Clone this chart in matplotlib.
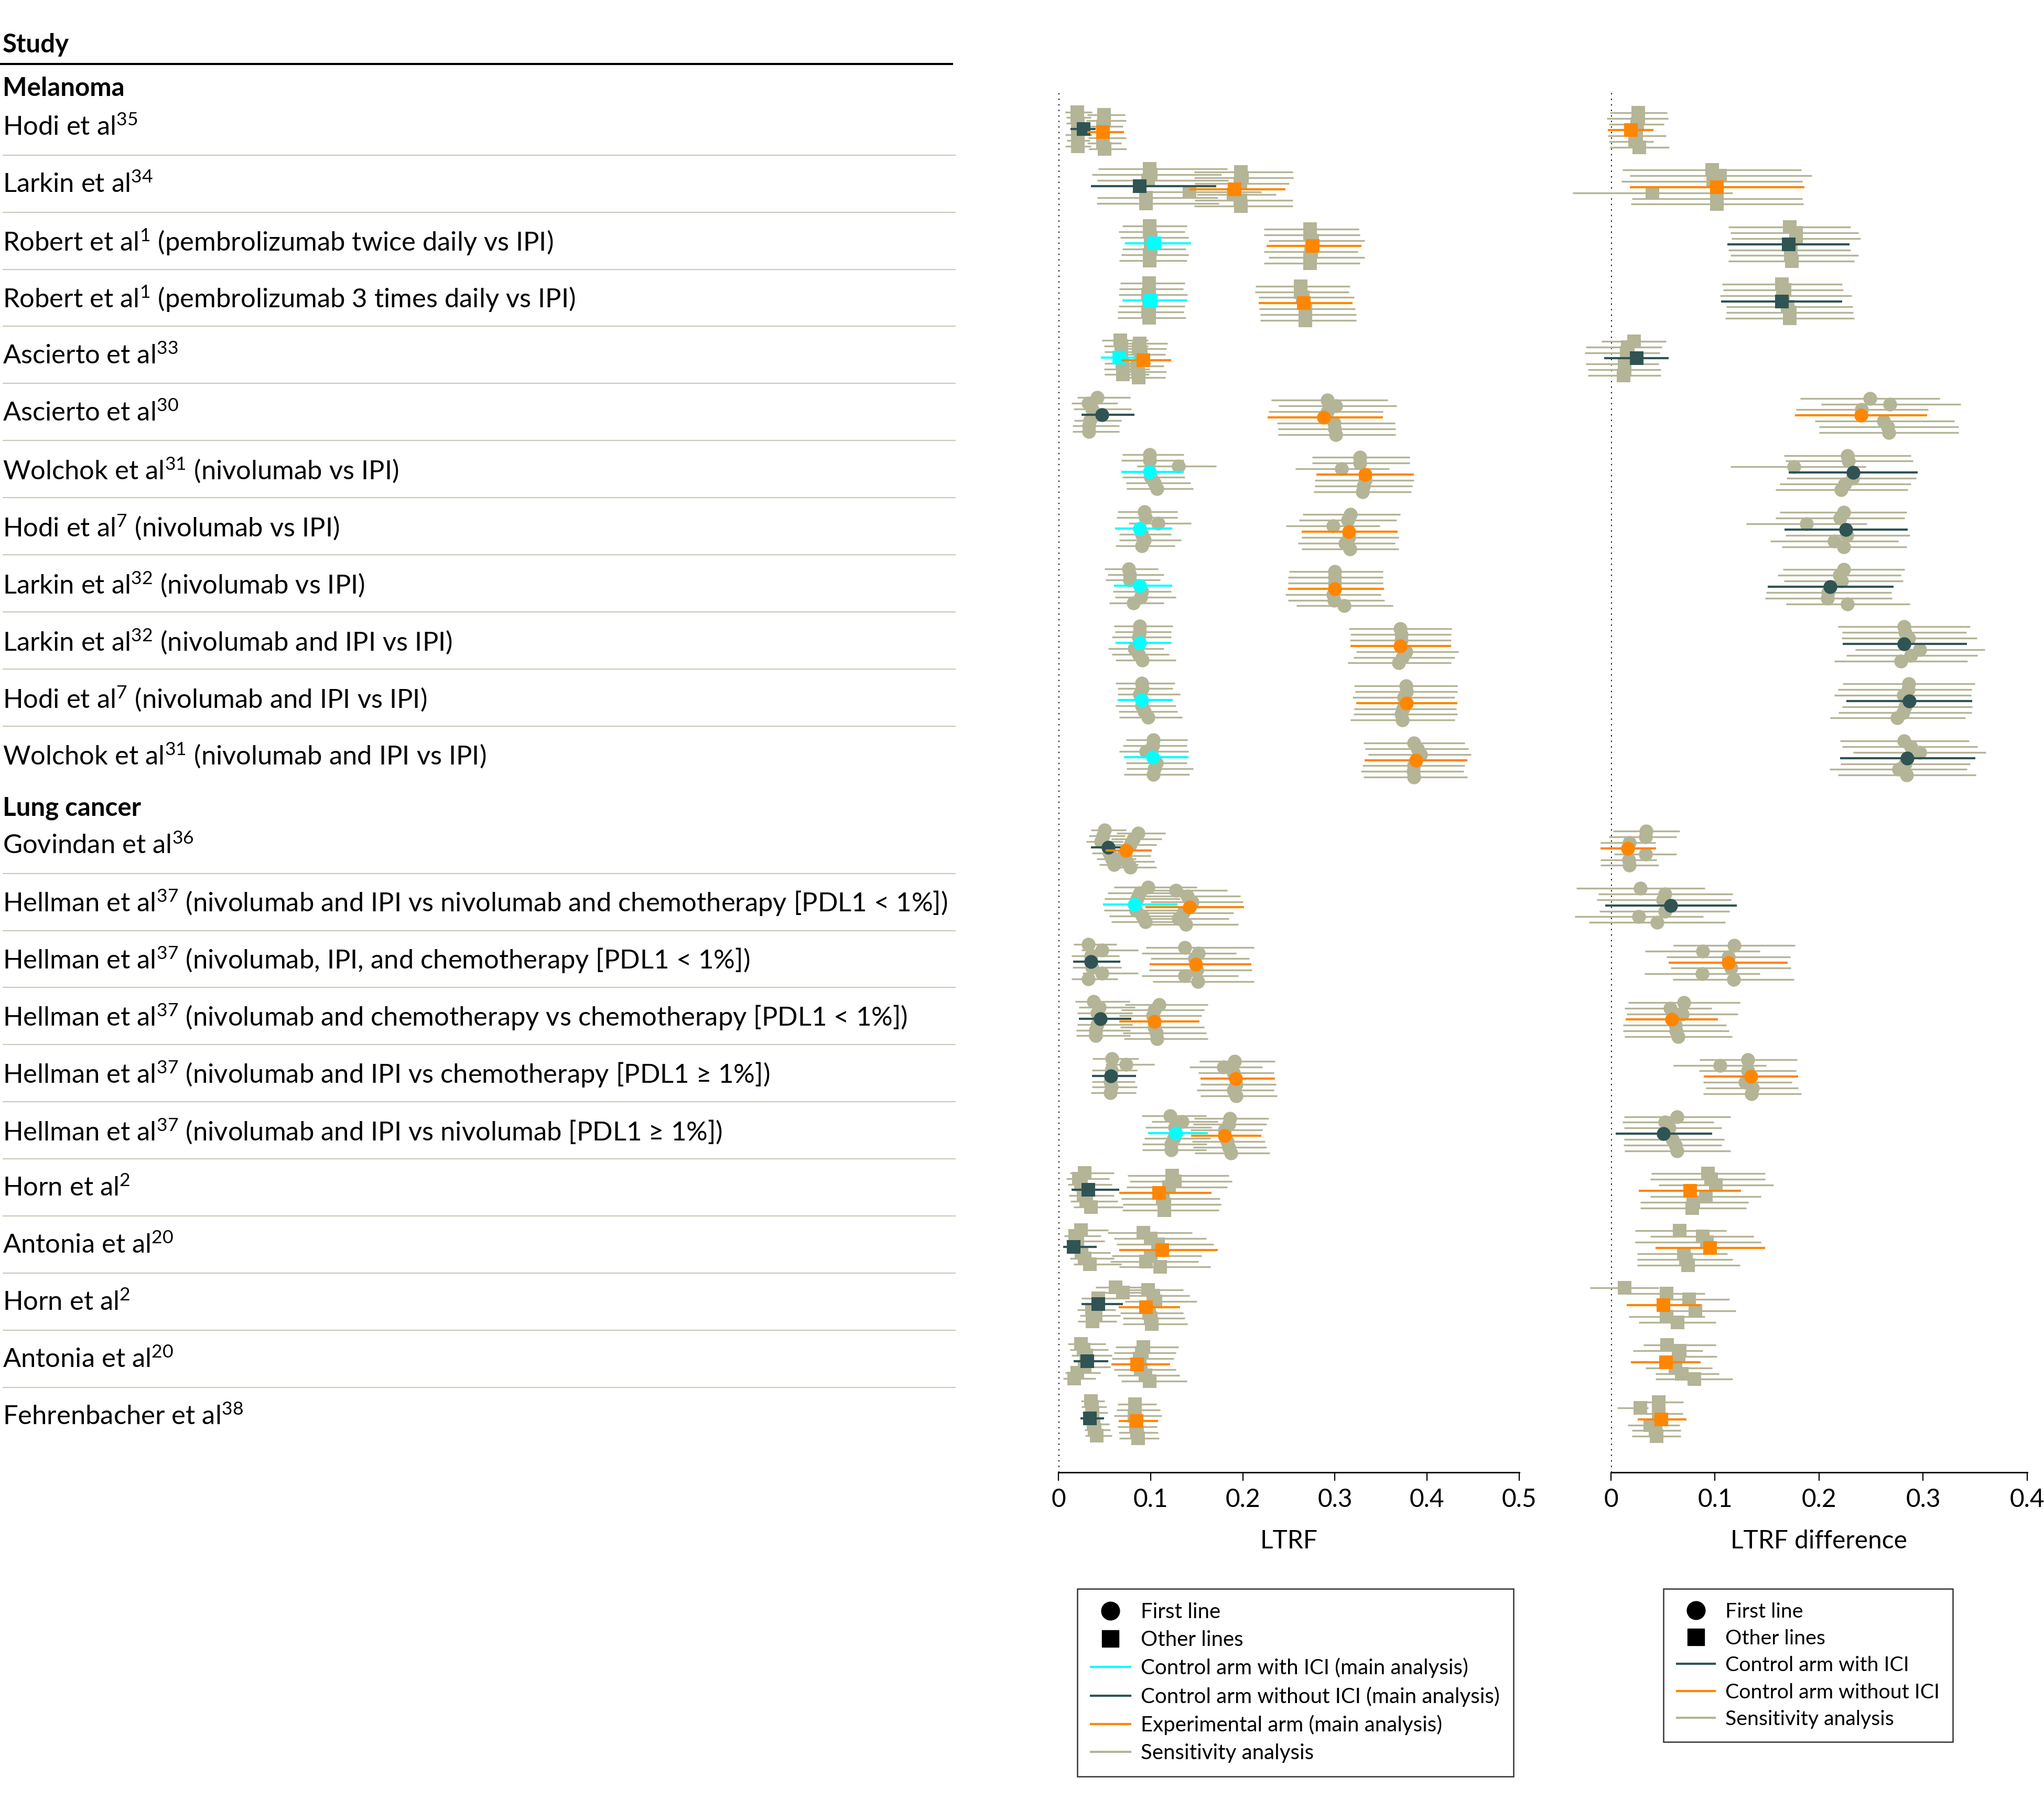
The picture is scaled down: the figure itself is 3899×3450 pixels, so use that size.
import matplotlib
matplotlib.use("Agg")
import matplotlib.pyplot as plt
import matplotlib.transforms as mtransforms
from matplotlib.lines import Line2D

plt.rcParams['font.family'] = ['Lato', 'DejaVu Sans']
plt.rcParams['mathtext.default'] = 'regular'

# --- study rows ---
labels = [
    "Hodi et al$^{35}$",
    "Larkin et al$^{34}$",
    "Robert et al$^{1}$ (pembrolizumab twice daily vs IPI)",
    "Robert et al$^{1}$ (pembrolizumab 3 times daily vs IPI)",
    "Ascierto et al$^{33}$",
    "Ascierto et al$^{30}$",
    "Wolchok et al$^{31}$ (nivolumab vs IPI)",
    "Hodi et al$^{7}$ (nivolumab vs IPI)",
    "Larkin et al$^{32}$ (nivolumab vs IPI)",
    "Larkin et al$^{32}$ (nivolumab and IPI vs IPI)",
    "Hodi et al$^{7}$ (nivolumab and IPI vs IPI)",
    "Wolchok et al$^{31}$ (nivolumab and IPI vs IPI)",
    "Govindan et al$^{36}$",
    "Hellman et al$^{37}$ (nivolumab and IPI vs nivolumab and chemotherapy [PDL1 < 1%])",
    "Hellman et al$^{37}$ (nivolumab, IPI, and chemotherapy [PDL1 < 1%])",
    "Hellman et al$^{37}$ (nivolumab and chemotherapy vs chemotherapy [PDL1 < 1%])",
    "Hellman et al$^{37}$ (nivolumab and IPI vs chemotherapy [PDL1 ≥ 1%])",
    "Hellman et al$^{37}$ (nivolumab and IPI vs nivolumab [PDL1 ≥ 1%])",
    "Horn et al$^{2}$",
    "Antonia et al$^{20}$",
    "Horn et al$^{2}$",
    "Antonia et al$^{20}$",
    "Fehrenbacher et al$^{38}$",
]
n_melanoma = 12
first_line = [False] * 5 + [True] * 13 + [False] * 5
control_with_ici = [False, False, True, True, True, False, True, True, True, True, True, True,
                    False, True, False, False, False, True, False, False, False, False, False]

# --- main analysis: control arm ---
ctrl_est = [0.027, 0.088, 0.104, 0.100, 0.066, 0.047, 0.099, 0.088, 0.088, 0.088, 0.090, 0.102,
            0.054, 0.082, 0.035, 0.045, 0.0565, 0.127, 0.032, 0.016, 0.043, 0.031, 0.034]
ctrl_lo = [0.013, 0.035, 0.072, 0.069, 0.046, 0.025, 0.068, 0.061, 0.060, 0.062, 0.064, 0.071,
           0.035, 0.048, 0.0155, 0.022, 0.036, 0.097, 0.0137, 0.005, 0.025, 0.016, 0.0235]
ctrl_hi = [0.040, 0.171, 0.144, 0.140, 0.088, 0.082, 0.136, 0.123, 0.123, 0.122, 0.124, 0.141,
           0.078, 0.129, 0.067, 0.079, 0.084, 0.162, 0.066, 0.041, 0.070, 0.054, 0.049]

# --- main analysis: experimental arm ---
exp_est = [0.048, 0.191, 0.276, 0.266, 0.092, 0.288, 0.333, 0.315, 0.300, 0.371, 0.378, 0.388,
           0.073, 0.142, 0.149, 0.104, 0.192, 0.180, 0.109, 0.1125, 0.095, 0.085, 0.0845]
exp_lo = [0.031, 0.142, 0.226, 0.217, 0.068, 0.227, 0.280, 0.264, 0.249, 0.317, 0.323, 0.332,
          0.051, 0.094, 0.099, 0.066, 0.154, 0.144, 0.066, 0.066, 0.065, 0.057, 0.065]
exp_hi = [0.071, 0.246, 0.329, 0.319, 0.122, 0.352, 0.386, 0.368, 0.353, 0.426, 0.433, 0.444,
          0.101, 0.201, 0.209, 0.153, 0.235, 0.220, 0.166, 0.173, 0.132, 0.121, 0.108]

# --- LTRF difference (main) ---
diff_est = [0.019, 0.102, 0.171, 0.164, 0.0245, 0.2405, 0.2327, 0.2257, 0.2108, 0.2818, 0.2867, 0.2846,
            0.0163, 0.0573, 0.1127, 0.0585, 0.1345, 0.0504, 0.076, 0.0953, 0.0504, 0.0527, 0.0483]
diff_lo = [-0.003, 0.018, 0.112, 0.106, -0.0065, 0.177, 0.171, 0.1668, 0.1508, 0.2225, 0.226, 0.220,
           -0.010, -0.0054, 0.0555, 0.014, 0.0892, 0.0047, 0.0265, 0.043, 0.015, 0.019, 0.0257]
diff_hi = [0.041, 0.186, 0.229, 0.222, 0.0555, 0.304, 0.2945, 0.285, 0.2716, 0.342, 0.347, 0.350,
           0.0433, 0.1209, 0.170, 0.103, 0.180, 0.097, 0.125, 0.148, 0.0864, 0.0864, 0.0724]

# --- sensitivity analyses (3 above, 3 below each main line) ---
ctrl_sens_est = [
    [0.020, 0.020, 0.021, 0.021, 0.021, 0.021], [0.099, 0.100, 0.097, 0.142, 0.095, 0.095],
    [0.099, 0.099, 0.100, 0.100, 0.099, 0.099], [0.098, 0.098, 0.097, 0.098, 0.097, 0.098],
    [0.067, 0.068, 0.068, 0.069, 0.070, 0.070], [0.042, 0.032, 0.036, 0.034, 0.033, 0.033],
    [0.099, 0.099, 0.130, 0.100, 0.104, 0.107], [0.093, 0.094, 0.108, 0.090, 0.093, 0.090],
    [0.076, 0.077, 0.077, 0.090, 0.089, 0.081], [0.088, 0.088, 0.087, 0.082, 0.087, 0.091],
    [0.090, 0.091, 0.088, 0.090, 0.093, 0.097], [0.103, 0.102, 0.095, 0.106, 0.104, 0.103],
    [0.050, 0.048, 0.046, 0.055, 0.058, 0.060], [0.097, 0.088, 0.085, 0.084, 0.091, 0.094],
    [0.032, 0.047, 0.035, 0.036, 0.047, 0.032], [0.038, 0.044, 0.042, 0.042, 0.040, 0.040],
    [0.058, 0.073, 0.057, 0.056, 0.057, 0.056], [0.121, 0.134, 0.126, 0.125, 0.122, 0.122],
    [0.028, 0.022, 0.024, 0.027, 0.030, 0.035], [0.024, 0.018, 0.020, 0.025, 0.028, 0.034],
    [0.062, 0.070, 0.043, 0.036, 0.040, 0.037], [0.024, 0.027, 0.030, 0.028, 0.020, 0.017],
    [0.035, 0.036, 0.037, 0.038, 0.039, 0.041],
]
ctrl_sens_lo = [
    [0.007, 0.008, 0.008, 0.007, 0.009, 0.007], [0.043, 0.036, 0.042, 0.080, 0.042, 0.041],
    [0.069, 0.065, 0.067, 0.069, 0.068, 0.066], [0.067, 0.066, 0.065, 0.065, 0.064, 0.064],
    [0.047, 0.049, 0.050, 0.050, 0.049, 0.050], [0.020, 0.014, 0.016, 0.017, 0.015, 0.015],
    [0.069, 0.068, 0.085, 0.069, 0.073, 0.074], [0.064, 0.063, 0.076, 0.066, 0.066, 0.062],
    [0.050, 0.053, 0.051, 0.059, 0.061, 0.055], [0.060, 0.061, 0.058, 0.054, 0.058, 0.062],
    [0.062, 0.064, 0.064, 0.062, 0.065, 0.066], [0.073, 0.070, 0.066, 0.073, 0.074, 0.071],
    [0.035, 0.033, 0.030, 0.036, 0.041, 0.044], [0.060, 0.053, 0.050, 0.049, 0.055, 0.057],
    [0.016, 0.025, 0.014, 0.015, 0.026, 0.014], [0.018, 0.022, 0.020, 0.020, 0.019, 0.019],
    [0.037, 0.051, 0.036, 0.036, 0.036, 0.035], [0.090, 0.101, 0.094, 0.093, 0.091, 0.091],
    [0.012, 0.008, 0.010, 0.011, 0.013, 0.016], [0.010, 0.006, 0.008, 0.010, 0.012, 0.016],
    [0.040, 0.047, 0.025, 0.020, 0.023, 0.021], [0.010, 0.012, 0.014, 0.012, 0.007, 0.005],
    [0.024, 0.025, 0.026, 0.027, 0.028, 0.029],
]
ctrl_sens_hi = [
    [0.036, 0.035, 0.034, 0.036, 0.034, 0.035], [0.183, 0.177, 0.184, 0.220, 0.173, 0.174],
    [0.139, 0.137, 0.141, 0.138, 0.141, 0.139], [0.137, 0.135, 0.140, 0.137, 0.136, 0.138],
    [0.097, 0.097, 0.096, 0.100, 0.099, 0.098], [0.078, 0.064, 0.079, 0.068, 0.066, 0.066],
    [0.136, 0.136, 0.171, 0.137, 0.143, 0.146], [0.129, 0.129, 0.144, 0.122, 0.133, 0.126],
    [0.108, 0.114, 0.110, 0.122, 0.127, 0.114], [0.124, 0.122, 0.122, 0.114, 0.120, 0.127],
    [0.126, 0.124, 0.132, 0.127, 0.129, 0.134], [0.140, 0.139, 0.141, 0.139, 0.146, 0.142],
    [0.073, 0.072, 0.070, 0.079, 0.084, 0.086], [0.150, 0.138, 0.132, 0.130, 0.140, 0.145],
    [0.063, 0.086, 0.066, 0.068, 0.086, 0.064], [0.077, 0.083, 0.080, 0.080, 0.078, 0.078],
    [0.087, 0.104, 0.085, 0.083, 0.085, 0.084], [0.160, 0.173, 0.166, 0.165, 0.161, 0.160],
    [0.060, 0.055, 0.058, 0.060, 0.064, 0.070], [0.054, 0.046, 0.050, 0.056, 0.060, 0.068],
    [0.092, 0.100, 0.071, 0.062, 0.067, 0.063], [0.051, 0.054, 0.058, 0.056, 0.045, 0.040],
    [0.050, 0.052, 0.053, 0.055, 0.056, 0.058],
]
exp_sens_est = [
    [0.049, 0.049, 0.048, 0.048, 0.048, 0.050], [0.198, 0.199, 0.197, 0.190, 0.197, 0.198],
    [0.273, 0.273, 0.275, 0.274, 0.273, 0.273], [0.263, 0.263, 0.265, 0.268, 0.268, 0.268],
    [0.088, 0.087, 0.089, 0.085, 0.086, 0.087], [0.292, 0.301, 0.292, 0.299, 0.300, 0.301],
    [0.327, 0.327, 0.307, 0.333, 0.331, 0.330], [0.317, 0.314, 0.298, 0.315, 0.311, 0.316],
    [0.300, 0.300, 0.300, 0.298, 0.299, 0.310], [0.371, 0.372, 0.372, 0.377, 0.373, 0.369],
    [0.377, 0.378, 0.375, 0.374, 0.372, 0.373], [0.386, 0.390, 0.393, 0.386, 0.385, 0.386],
    [0.086, 0.081, 0.078, 0.070, 0.074, 0.078], [0.127, 0.140, 0.145, 0.135, 0.130, 0.138],
    [0.137, 0.152, 0.148, 0.150, 0.137, 0.151], [0.109, 0.104, 0.102, 0.104, 0.106, 0.107],
    [0.191, 0.179, 0.190, 0.193, 0.190, 0.193], [0.186, 0.185, 0.180, 0.183, 0.185, 0.187],
    [0.123, 0.126, 0.120, 0.113, 0.115, 0.115], [0.092, 0.100, 0.108, 0.100, 0.095, 0.110],
    [0.097, 0.103, 0.105, 0.098, 0.100, 0.101], [0.092, 0.090, 0.088, 0.089, 0.094, 0.099],
    [0.083, 0.083, 0.082, 0.084, 0.085, 0.086],
]
exp_sens_lo = [
    [0.031, 0.030, 0.030, 0.032, 0.031, 0.033], [0.147, 0.147, 0.148, 0.150, 0.148, 0.147],
    [0.223, 0.223, 0.228, 0.223, 0.228, 0.223], [0.214, 0.213, 0.217, 0.218, 0.219, 0.219],
    [0.066, 0.066, 0.067, 0.064, 0.065, 0.066], [0.231, 0.239, 0.228, 0.237, 0.238, 0.238],
    [0.275, 0.275, 0.257, 0.278, 0.278, 0.277], [0.265, 0.261, 0.247, 0.264, 0.260, 0.264],
    [0.250, 0.249, 0.249, 0.246, 0.249, 0.258], [0.315, 0.317, 0.316, 0.323, 0.320, 0.314],
    [0.321, 0.322, 0.319, 0.321, 0.320, 0.317], [0.331, 0.333, 0.336, 0.330, 0.328, 0.331],
    [0.063, 0.057, 0.056, 0.050, 0.052, 0.055], [0.085, 0.095, 0.100, 0.093, 0.088, 0.092],
    [0.095, 0.090, 0.100, 0.098, 0.090, 0.102], [0.072, 0.068, 0.066, 0.067, 0.070, 0.071],
    [0.153, 0.142, 0.152, 0.154, 0.150, 0.154], [0.147, 0.146, 0.143, 0.145, 0.146, 0.148],
    [0.075, 0.077, 0.074, 0.068, 0.070, 0.069], [0.053, 0.060, 0.063, 0.058, 0.056, 0.066],
    [0.068, 0.073, 0.072, 0.067, 0.070, 0.070], [0.062, 0.060, 0.058, 0.060, 0.064, 0.068],
    [0.064, 0.063, 0.060, 0.064, 0.065, 0.066],
]
exp_sens_hi = [
    [0.072, 0.073, 0.070, 0.073, 0.068, 0.074], [0.254, 0.255, 0.250, 0.236, 0.254, 0.254],
    [0.326, 0.327, 0.332, 0.325, 0.332, 0.327], [0.316, 0.315, 0.321, 0.322, 0.323, 0.323],
    [0.118, 0.117, 0.116, 0.114, 0.117, 0.116], [0.357, 0.367, 0.352, 0.365, 0.366, 0.366],
    [0.381, 0.381, 0.359, 0.386, 0.384, 0.383], [0.371, 0.367, 0.349, 0.369, 0.365, 0.369],
    [0.352, 0.352, 0.352, 0.350, 0.354, 0.363], [0.427, 0.426, 0.426, 0.434, 0.430, 0.426],
    [0.433, 0.433, 0.430, 0.432, 0.433, 0.430], [0.441, 0.445, 0.448, 0.441, 0.440, 0.444],
    [0.116, 0.112, 0.106, 0.100, 0.104, 0.106], [0.183, 0.197, 0.200, 0.190, 0.185, 0.195],
    [0.212, 0.193, 0.207, 0.210, 0.195, 0.212], [0.162, 0.158, 0.155, 0.158, 0.160, 0.162],
    [0.235, 0.221, 0.234, 0.236, 0.234, 0.237], [0.228, 0.226, 0.221, 0.224, 0.226, 0.229],
    [0.185, 0.188, 0.183, 0.175, 0.176, 0.174], [0.145, 0.160, 0.168, 0.155, 0.152, 0.165],
    [0.135, 0.142, 0.150, 0.135, 0.137, 0.140], [0.130, 0.127, 0.125, 0.127, 0.131, 0.139],
    [0.106, 0.110, 0.112, 0.107, 0.108, 0.109],
]
diff_sens_est = [
    [0.026, 0.026, 0.025, 0.024, 0.023, 0.027], [0.097, 0.105, 0.098, 0.040, 0.102, 0.102],
    [0.172, 0.178, 0.178, 0.173, 0.173, 0.174], [0.164, 0.167, 0.165, 0.170, 0.172, 0.172],
    [0.022, 0.016, 0.015, 0.013, 0.013, 0.012], [0.249, 0.268, 0.241, 0.262, 0.266, 0.267],
    [0.227, 0.228, 0.176, 0.232, 0.2245, 0.221], [0.2236, 0.220, 0.188, 0.2268, 0.2144, 0.2239],
    [0.2236, 0.2196, 0.2216, 0.2088, 0.2080, 0.2274], [0.2818, 0.2828, 0.286, 0.2965, 0.2884, 0.2788],
    [0.286, 0.2855, 0.281, 0.2826, 0.2806, 0.275], [0.2818, 0.288, 0.2965, 0.2826, 0.2768, 0.284],
    [0.034, 0.033, 0.0175, 0.033, 0.017, 0.0175], [0.028, 0.052, 0.050, 0.052, 0.0265, 0.0445],
    [0.1183, 0.0881, 0.1127, 0.1156, 0.0875, 0.118], [0.070, 0.0567, 0.0686, 0.062, 0.0625, 0.0646],
    [0.1316, 0.105, 0.1316, 0.129, 0.136, 0.135], [0.0637, 0.0517, 0.056, 0.059, 0.0618, 0.0637],
    [0.093, 0.096, 0.101, 0.091, 0.079, 0.078], [0.066, 0.088, 0.092, 0.070, 0.072, 0.074],
    [0.013, 0.0535, 0.0753, 0.081, 0.0532, 0.064], [0.054, 0.066, 0.065, 0.062, 0.068, 0.080],
    [0.046, 0.028, 0.046, 0.038, 0.043, 0.044],
]
diff_sens_lo = [
    [-0.001, -0.004, -0.002, -0.003, -0.002, -0.001], [0.011, 0.018, 0.010, -0.037, 0.020, 0.019],
    [0.113, 0.115, 0.116, 0.113, 0.115, 0.113], [0.107, 0.108, 0.105, 0.111, 0.111, 0.110],
    [-0.009, -0.024, -0.025, -0.024, -0.022, -0.022], [0.182, 0.202, 0.178, 0.196, 0.200, 0.200],
    [0.166, 0.168, 0.115, 0.169, 0.162, 0.158], [0.162, 0.158, 0.130, 0.168, 0.153, 0.164],
    [0.165, 0.160, 0.1665, 0.149, 0.148, 0.1685], [0.218, 0.222, 0.2216, 0.235, 0.226, 0.2144],
    [0.2225, 0.218, 0.2147, 0.222, 0.2187, 0.2106], [0.220, 0.2224, 0.2327, 0.2208, 0.2103, 0.2179],
    [0.002, -0.002, -0.010, 0.003, -0.010, -0.010], [-0.033, -0.012, -0.0135, -0.011, -0.035, -0.021],
    [0.060, 0.0326, 0.0533, 0.0576, 0.0323, 0.0596], [0.0167, 0.013, 0.0149, 0.0117, 0.0114, 0.013],
    [0.085, 0.060, 0.0846, 0.0886, 0.0912, 0.0886], [0.0126, 0.011, 0.0126, 0.0126, 0.0123, 0.0131],
    [0.039, 0.038, 0.046, 0.038, 0.028, 0.028], [0.023, 0.038, 0.023, 0.025, 0.025, 0.025],
    [-0.020, 0.017, 0.050, 0.053, 0.017, 0.0265], [0.031, 0.021, 0.047, 0.033, 0.043, 0.043],
    [0.022, 0.006, 0.032, 0.016, 0.020, 0.020],
]
diff_sens_hi = [
    [0.054, 0.055, 0.051, 0.053, 0.041, 0.056], [0.183, 0.193, 0.184, 0.117, 0.184, 0.185],
    [0.230, 0.238, 0.240, 0.230, 0.238, 0.234], [0.222, 0.223, 0.231, 0.232, 0.233, 0.234],
    [0.053, 0.049, 0.047, 0.046, 0.048, 0.048], [0.316, 0.336, 0.305, 0.330, 0.334, 0.334],
    [0.288, 0.290, 0.245, 0.293, 0.288, 0.285], [0.284, 0.282, 0.246, 0.287, 0.276, 0.284],
    [0.282, 0.2785, 0.2806, 0.2695, 0.2698, 0.287], [0.3453, 0.3415, 0.3514, 0.359, 0.352, 0.3424],
    [0.3497, 0.3468, 0.3459, 0.3473, 0.3468, 0.3404], [0.344, 0.352, 0.360, 0.345, 0.342, 0.3505],
    [0.066, 0.063, 0.043, 0.063, 0.044, 0.046], [0.090, 0.117, 0.1156, 0.114, 0.0886, 0.110],
    [0.1766, 0.1432, 0.1723, 0.173, 0.1432, 0.176], [0.124, 0.0966, 0.122, 0.1107, 0.1133, 0.1165],
    [0.179, 0.149, 0.178, 0.174, 0.180, 0.1827], [0.1148, 0.0988, 0.1063, 0.109, 0.1061, 0.1148],
    [0.148, 0.148, 0.156, 0.144, 0.132, 0.130], [0.111, 0.137, 0.144, 0.112, 0.117, 0.124],
    [0.046, 0.090, 0.114, 0.120, 0.090, 0.101], [0.101, 0.088, 0.102, 0.097, 0.104, 0.117],
    [0.0695, 0.036, 0.069, 0.066, 0.067, 0.067],
]

ltrf_ticks = [0, 0.1, 0.2, 0.3, 0.4, 0.5]
diff_ticks = [0, 0.1, 0.2, 0.3, 0.4]

# --- styles ---
C_CYAN = "#00FFFF"
C_TEAL = "#2F5453"
C_ORANGE = "#FF8600"
C_GREY = "#B4B496"
C_SEP = "#CACABA"
FS_LAB = 36.5
FS_HEAD = 35.5
FS = 34.5
FS_LEG = 29
MS = 19
LW_S = 2.4
LW_M = 3.0
SENS_OFF = [-0.3, -0.2, -0.1, 0.1, 0.2, 0.3]

row_y = [i for i in range(n_melanoma)] + [12.58 + j for j in range(len(labels) - n_melanoma)]

fig = plt.figure(figsize=(38.99, 34.5), dpi=100)
bottom, top = 0.1861, 0.9487
ax_m = fig.add_axes([0.51795, bottom, 0.22524, top - bottom])
ax_r = fig.add_axes([0.78815, bottom, 0.20364, top - bottom])


def draw_arm(ax, y0, est, lo, hi, s_est, s_lo, s_hi, color, marker, z):
    for k, off in enumerate(SENS_OFF):
        y = y0 + off
        ax.plot([s_lo[k], s_hi[k]], [y, y], color=C_GREY, lw=LW_S,
                solid_capstyle="butt", clip_on=False, zorder=2)
        ax.plot([s_est[k]], [y], marker=marker, color=C_GREY, ms=MS, mew=0,
                ls="none", clip_on=False, zorder=2)
    ax.plot([lo, hi], [y0, y0], color=color, lw=LW_M, solid_capstyle="butt",
            clip_on=False, zorder=z)
    ax.plot([est], [y0], marker=marker, color=color, ms=MS, mew=0, ls="none",
            clip_on=False, zorder=z + 0.5)


for i, y in enumerate(row_y):
    mk = "o" if first_line[i] else "s"
    c_ctrl = C_CYAN if control_with_ici[i] else C_TEAL
    c_diff = C_TEAL if control_with_ici[i] else C_ORANGE
    draw_arm(ax_m, y - 0.025, ctrl_est[i], ctrl_lo[i], ctrl_hi[i],
             ctrl_sens_est[i], ctrl_sens_lo[i], ctrl_sens_hi[i], c_ctrl, mk, 3)
    draw_arm(ax_m, y + 0.025, exp_est[i], exp_lo[i], exp_hi[i],
             exp_sens_est[i], exp_sens_lo[i], exp_sens_hi[i], C_ORANGE, mk, 4)
    draw_arm(ax_r, y - 0.01, diff_est[i], diff_lo[i], diff_hi[i],
             diff_sens_est[i], diff_sens_lo[i], diff_sens_hi[i], c_diff, mk, 3)

for ax, ticks, xmax, xlab in [(ax_m, ltrf_ticks, 0.5, "LTRF"),
                              (ax_r, diff_ticks, 0.4, "LTRF difference")]:
    ax.set_xlim(0, xmax)
    ax.set_ylim(23.5, -0.661)
    ax.axvline(0, color="black", lw=1.9, ls=(0, (1, 3)), zorder=1)
    for s in ["top", "left", "right"]:
        ax.spines[s].set_visible(False)
    ax.spines["bottom"].set_linewidth(2.0)
    ax.set_yticks([])
    ax.set_xticks(ticks)
    ax.set_xticklabels([f"{t:g}" for t in ticks])
    ax.tick_params(axis="x", length=11.5, width=1.6, labelsize=FS, pad=10)
    ax.set_xlabel(xlab, fontsize=FS, labelpad=25)
    ax.patch.set_visible(False)

# --- study column ---
blend = mtransforms.blended_transform_factory(fig.transFigure, ax_m.transData)
x_txt = 0.0013
x_end = 0.4675
ax_m.text(x_txt, -1.50, "Study", transform=blend, fontsize=FS_HEAD, fontweight="bold",
          ha="left", va="center", clip_on=False)
ax_m.plot([0, 0.4662], [-1.168, -1.168], transform=blend, color="black", lw=2.9,
          clip_on=False, solid_capstyle="butt")
ax_m.text(x_txt, -0.74, "Melanoma", transform=blend, fontsize=FS_HEAD, fontweight="bold",
          ha="left", va="center", clip_on=False)
ax_m.text(x_txt, 11.87, "Lung cancer", transform=blend, fontsize=FS_HEAD, fontweight="bold",
          ha="left", va="center", clip_on=False)
for i, y in enumerate(row_y):
    ax_m.text(x_txt, y - 0.05, labels[i], transform=blend, fontsize=FS_LAB,
              ha="left", va="center", clip_on=False)
    if i != n_melanoma - 1 and i != len(labels) - 1:
        ax_m.plot([x_txt, x_end], [y + 0.43, y + 0.43], transform=blend, color=C_SEP,
                  lw=1.6, clip_on=False, solid_capstyle="butt")

# --- legends ---
h_main = [
    Line2D([], [], marker="o", color="black", ls="none", ms=25),
    Line2D([], [], marker="s", color="black", ls="none", ms=23),
    Line2D([], [], color=C_CYAN, lw=3),
    Line2D([], [], color=C_TEAL, lw=3),
    Line2D([], [], color=C_ORANGE, lw=3),
    Line2D([], [], color=C_GREY, lw=3),
]
l_main = ["First line", "Other lines", "Control arm with ICI (main analysis)",
          "Control arm without ICI (main analysis)", "Experimental arm (main analysis)",
          "Sensitivity analysis"]
h_diff = [
    Line2D([], [], marker="o", color="black", ls="none", ms=25),
    Line2D([], [], marker="s", color="black", ls="none", ms=23),
    Line2D([], [], color=C_TEAL, lw=3),
    Line2D([], [], color=C_ORANGE, lw=3),
    Line2D([], [], color=C_GREY, lw=3),
]
l_diff = ["First line", "Other lines", "Control arm with ICI", "Control arm without ICI",
          "Sensitivity analysis"]

for h, l, x0, fs in [(h_main, l_main, 2055 / 3899, FS_LEG), (h_diff, l_diff, 3173 / 3899, 28.3)]:
    leg = fig.legend(h, l, loc="upper left", bbox_to_anchor=(x0, 1 - 3030 / 3450),
                     fontsize=fs, frameon=True, fancybox=False, edgecolor="black",
                     handlelength=1.85, handletextpad=0.5, labelspacing=0.39,
                     borderpad=0.65, borderaxespad=0)
    leg.get_frame().set_linewidth(1.8)

fig.savefig("out.png", dpi=100)
